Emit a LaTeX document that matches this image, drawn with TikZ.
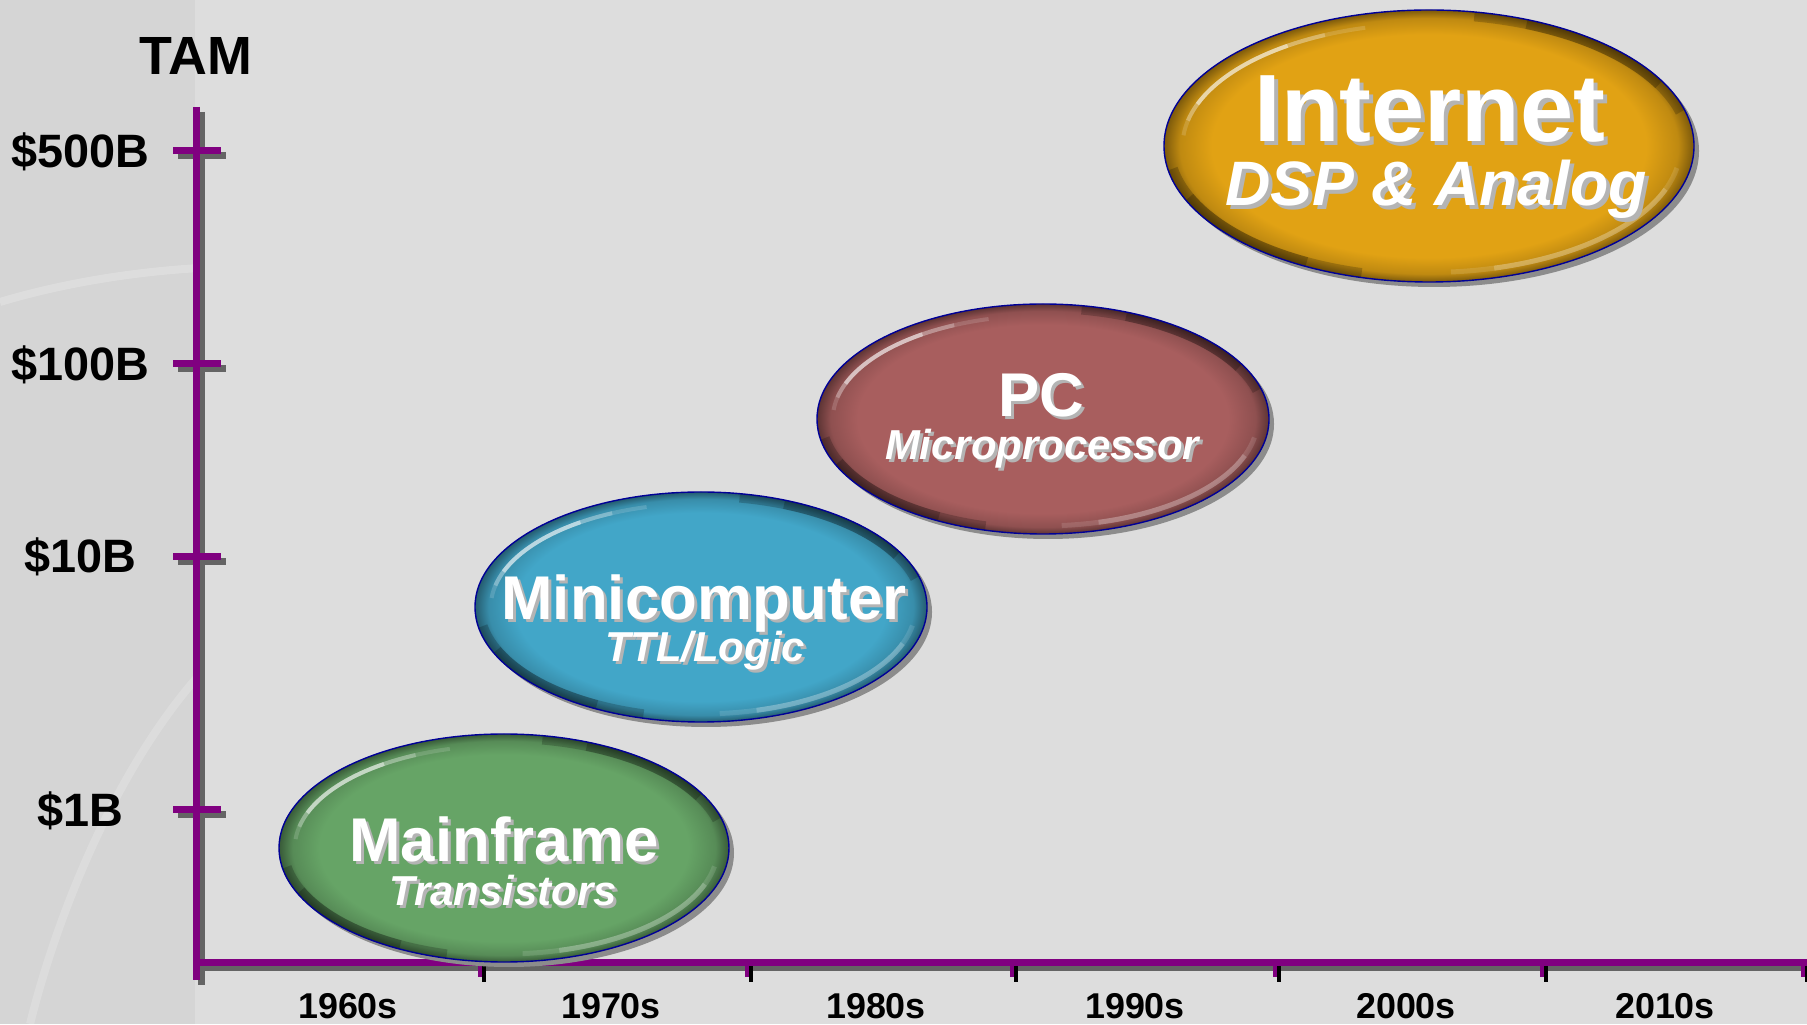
\documentclass[tikz,border=0pt]{standalone}
\usepackage{fontspec}
\setmainfont{Liberation Sans}
\usetikzlibrary{calc}
\definecolor{bgmain}{RGB}{221,221,221}
\definecolor{bgleft}{RGB}{213,213,213}
\definecolor{axpurple}{RGB}{128,0,128}
\definecolor{axshadow}{RGB}{100,100,100}
\definecolor{navyline}{RGB}{0,0,150}
\definecolor{bshadow}{RGB}{140,140,140}
\definecolor{tshadow}{RGB}{180,180,180}
\definecolor{mfgreen}{RGB}{102,164,102}
\definecolor{mcblue}{RGB}{66,166,200}
\definecolor{pcred}{RGB}{168,94,94}
\definecolor{ntgold}{RGB}{225,162,20}
\pgfdeclareradialshading{shmfgreen}{\pgfpointorigin}{color(0bp)=(mfgreen); color(20.5bp)=(mfgreen); color(23.5bp)=(mfgreen!85!black); color(25bp)=(mfgreen!55!black); color(50bp)=(mfgreen!55!black)}
\pgfdeclareradialshading{shmcblue}{\pgfpointorigin}{color(0bp)=(mcblue); color(20.5bp)=(mcblue); color(23.5bp)=(mcblue!85!black); color(25bp)=(mcblue!55!black); color(50bp)=(mcblue!55!black)}
\pgfdeclareradialshading{shpcred}{\pgfpointorigin}{color(0bp)=(pcred); color(20.5bp)=(pcred); color(23.5bp)=(pcred!85!black); color(25bp)=(pcred!55!black); color(50bp)=(pcred!55!black)}
\pgfdeclareradialshading{shntgold}{\pgfpointorigin}{color(0bp)=(ntgold); color(20.5bp)=(ntgold); color(23.5bp)=(ntgold!85!black); color(25bp)=(ntgold!55!black); color(50bp)=(ntgold!55!black)}
\tikzset{
  axline/.style={axpurple, line width=7bp},
  axshad/.style={axshadow, line width=7bp},
  btitle/.style={font=\bfseries\fontsize{62}{62}\selectfont, anchor=base, inner sep=0pt},
  bsub/.style={font=\bfseries\itshape\fontsize{42}{42}\selectfont, anchor=base, inner sep=0pt},
  bigtitle/.style={font=\bfseries\fontsize{96}{96}\selectfont, anchor=base, inner sep=0pt},
  bigsub/.style={font=\bfseries\itshape\fontsize{63}{63}\selectfont, anchor=base, inner sep=0pt},
  ylab/.style={font=\bfseries\fontsize{47}{47}\selectfont, anchor=base, inner sep=0pt, text=black},
  declab/.style={font=\bfseries\fontsize{36}{36}\selectfont, anchor=base, inner sep=0pt, text=black},
}
% #1 cx, #2 cy, #3 rx, #4 ry, #5 colour name
\newcommand\bubble[5]{%
  \fill[bshadow] (#1+5,#2-5) ellipse [x radius=#3bp, y radius=#4bp];
  \shade[shading=sh#5] (#1,#2) ellipse [x radius=#3bp, y radius=#4bp];
  \begin{scope}
    \clip (#1,#2) ellipse [x radius=#3bp, y radius=#4bp];
    \foreach \a/\b/\o in {15/80/0.2, 28/68/0.2, 190/255/0.2, 203/242/0.2} {
      \draw[black, opacity=\o, line width=12bp] ([shift={(#1,#2)}]\a:0.985*#3bp and 0.975*#4bp)
        arc[start angle=\a, end angle=\b, x radius=0.985*#3bp, y radius=0.975*#4bp];
    }
    \foreach \a/\b/\o in {125/160/0.45, 115/168/0.25, 105/175/0.15} {
      \draw[white, opacity=\o, line width=4bp] ([shift={(#1,#2)}]\a:0.93*#3bp and 0.9*#4bp)
        arc[start angle=\a, end angle=\b, x radius=0.93*#3bp, y radius=0.9*#4bp];
    }
    \foreach \a/\b/\o in {285/340/0.2, 275/350/0.12} {
      \draw[white, opacity=\o, line width=5bp] ([shift={(#1,#2)}]\a:0.95*#3bp and 0.93*#4bp)
        arc[start angle=\a, end angle=\b, x radius=0.95*#3bp, y radius=0.93*#4bp];
    }
  \end{scope}
  \draw[navyline, line width=1.4bp] (#1,#2) ellipse [x radius=#3bp, y radius=#4bp];
}
% #1 style, #2 name, #3 x, #4 y, #5 text, #6 shadow offset
\newcommand\shtext[6]{%
  \node[#1, text=tshadow] (#2s) at (#3+#6,#4-#6) {#5};
  \node[#1, text=white] (#2) at (#3,#4) {#5};
}
\begin{document}
\begin{tikzpicture}[x=1bp, y=1bp]
\useasboundingbox (0,0) rectangle (1807,1024);
% background
\fill[bgmain] (0,0) rectangle (1807,1024);
\fill[bgleft] (0,0) rectangle (195,1024);
\begin{scope}
  \clip (0,0) rectangle (195,1024);
  \draw[white, opacity=0.2, line width=8bp] (0,722) .. controls (60,740) and (130,752) .. (200,756);
  \draw[white, opacity=0.18, line width=8bp] (30,0) .. controls (60,120) and (120,260) .. (200,350);
\end{scope}

% axes
\coordinate (ytop) at (196,917);
\coordinate (ybot) at (196,44);
\coordinate (xleft) at (196,62);
\coordinate (xright) at (1807,62);
\draw[axshad] ([shift={(5,-5)}]ytop) -- ([shift={(5,-5)}]ybot);
\draw[axshad] ([shift={(5,-5)}]xleft) -- ([shift={(5,-5)}]xright);
\foreach \yy in {873,660,467,214} {
  \draw[axshad] (178,\yy-5) -- (226,\yy-5);
}
\draw[axline] (ytop) -- (ybot);
\draw[axline] (xleft) -- (xright);
\foreach \yy in {873,660,467,214} {
  \draw[axline] (173,\yy) -- (221,\yy);
}
\foreach \xx in {480,747,1012,1275,1542,1803} {
  \draw[black, line width=4bp] (\xx+4,58) -- (\xx+4,42);
  \draw[axpurple, line width=4bp] (\xx,62) -- (\xx,47);
}

% axis labels
\node[font=\bfseries\fontsize{54}{54}\selectfont, anchor=base, inner sep=0pt] (tam) at (196,949) {TAM};
\node[ylab] (y500) at (80,856) {\$500B};
\node[ylab] (y100) at (80,643) {\$100B};
\node[ylab] (y10) at (80,451) {\$10B};
\node[ylab] (y1) at (80,197) {\$1B};
\node[declab] (d60) at (348,6) {1960s};
\node[declab] (d70) at (611,6) {1970s};
\node[declab] (d80) at (876,6) {1980s};
\node[declab] (d90) at (1135,6) {1990s};
\node[declab] (d00) at (1406,6) {2000s};
\node[declab] (d10) at (1665,6) {2010s};

% bubbles
\bubble{504}{176}{225}{114}{mfgreen}
\bubble{701}{417}{226}{115}{mcblue}
\bubble{1043}{605}{226}{115}{pcred}
\bubble{1429}{878}{265}{136}{ntgold}

% bubble texts
\shtext{btitle}{mf}{504}{162}{Mainframe}{3}
\shtext{bsub}{mfs}{503}{119}{Transistors}{3}
\shtext{btitle}{mc}{704}{404}{Minicomputer}{3}
\shtext{bsub}{mcs}{705}{362}{TTL/Logic}{3}
\shtext{btitle}{pc}{1041}{607}{PC}{3}
\shtext{bsub}{pcs}{1042}{564}{Microprocessor}{3}
\shtext{bigtitle}{nt}{1430}{882}{Internet}{4}
\shtext{bigsub}{nts}{1436}{818}{DSP \& Analog}{4}
\end{tikzpicture}
\end{document}
